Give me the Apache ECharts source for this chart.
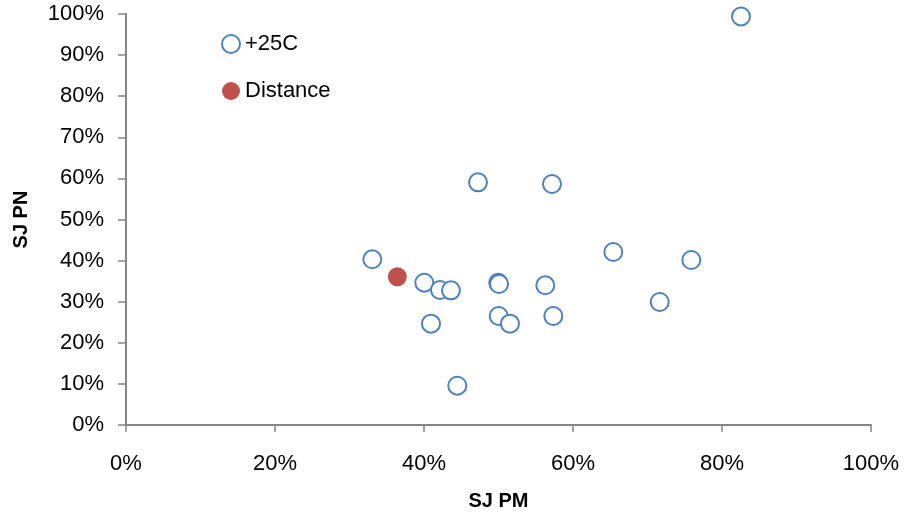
<!DOCTYPE html>
<html><head><meta charset="utf-8">
<script src="https://cdn.jsdelivr.net/npm/echarts@6/dist/echarts.min.js"></script>
<style>html,body{margin:0;padding:0;background:#fff}#c{width:906px;height:517px}</style>
</head><body><div id="c"></div>
<script>
var seriesNames = ['+25C', 'Distance'];
var tempX = [82.55, 47.25, 57.18, 65.41, 75.88, 33.06, 40.04, 42.15, 43.62, 49.97, 50.07, 56.28, 71.64, 40.94, 50.03, 51.54, 57.36, 44.47];
var tempY = [99.4, 59.05, 58.64, 42.09, 40.15, 40.32, 34.62, 32.85, 32.77, 34.62, 34.3, 33.99, 29.93, 24.65, 26.52, 24.65, 26.52, 9.56];
var distX = [36.42];
var distY = [36.08];
var xTicks = [0, 20, 40, 60, 80, 100];
var yTicks = [0, 10, 20, 30, 40, 50, 60, 70, 80, 90, 100];

function pairs(xs, ys) { return xs.map(function (x, i) { return [x, ys[i]]; }); }
var font = 'Liberation Sans';
var axisCol = '#868686';
var chart = echarts.init(document.getElementById('c'));
chart.setOption({
  animation: false,
  backgroundColor: '#fff',
  textStyle: { fontFamily: font },
  grid: { left: 126, right: 35, top: 14, bottom: 92 },
  legend: {
    orient: 'vertical', left: 216, top: 28, padding: 5, itemGap: 25,
    itemWidth: 18, itemHeight: 18,
    textStyle: { fontFamily: font, fontSize: 22, color: '#000' },
    data: [
      { name: seriesNames[0], icon: 'circle', itemStyle: { color: '#fff', borderColor: '#4F81BD', borderWidth: 2 } },
      { name: seriesNames[1], icon: 'circle' }
    ]
  },
  xAxis: {
    type: 'value', min: 0, max: 100, interval: 20,
    name: 'SJ PM', nameLocation: 'middle', nameGap: 66,
    nameTextStyle: { fontFamily: font, fontSize: 20, fontWeight: 'bold', color: '#000' },
    axisLine: { show: true, onZero: false, lineStyle: { color: axisCol, width: 2 } },
    axisTick: { show: true, length: 7, lineStyle: { color: axisCol, width: 1.5 } },
    axisLabel: { margin: 28, fontSize: 22, color: '#000', fontFamily: font,
      formatter: function (v) { return xTicks.indexOf(v) >= 0 ? v + '%' : ''; } },
    splitLine: { show: false }
  },
  yAxis: {
    type: 'value', min: 0, max: 100, interval: 10,
    name: 'SJ PN', nameLocation: 'middle', nameGap: 95, nameRotate: 90,
    nameTextStyle: { fontFamily: font, fontSize: 20, fontWeight: 'bold', color: '#000' },
    axisLine: { show: true, onZero: false, lineStyle: { color: axisCol, width: 2 } },
    axisTick: { show: true, length: 8, lineStyle: { color: axisCol, width: 1.5 } },
    axisLabel: { margin: 22, fontSize: 22, color: '#000', fontFamily: font,
      formatter: function (v) { return yTicks.indexOf(v) >= 0 ? v + '%' : ''; } },
    splitLine: { show: false }
  },
  series: [
    { name: seriesNames[0], type: 'scatter', symbol: 'circle', symbolSize: 18,
      itemStyle: { color: '#fff', borderColor: '#4F81BD', borderWidth: 2, opacity: 1 },
      data: pairs(tempX, tempY) },
    { name: seriesNames[1], type: 'scatter', symbol: 'circle', symbolSize: 19,
      itemStyle: { color: '#C0504D', opacity: 1 },
      data: pairs(distX, distY) }
  ]
});
</script></body></html>
